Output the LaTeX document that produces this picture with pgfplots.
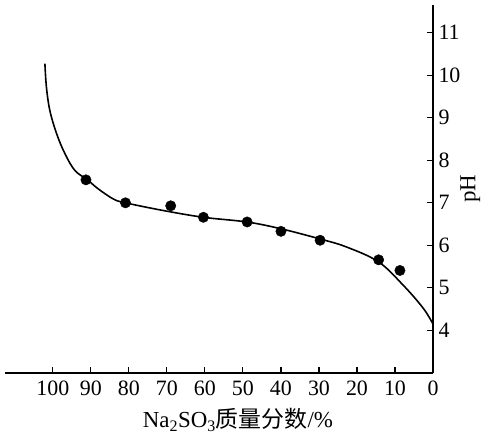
\documentclass[border=0pt]{standalone}
\usepackage{fontspec}
\setmainfont{Liberation Serif}
\newfontfamily\cjk{Noto Sans CJK SC}
\usepackage{pgfplots}
\pgfplotsset{compat=1.18}
\begin{document}
\begin{tikzpicture}
  \useasboundingbox (0,0) rectangle (500bp,436bp);
  \begin{axis}[
      at={(5bp,63bp)}, anchor=south west,
      scale only axis,
      width=428bp, height=368bp,
      x dir=reverse,
      xmin=0, xmax=112.6,
      ymin=3, ymax=11.65,
      axis x line=bottom, axis y line=right,
      axis line style={-, line width=1.3pt},
      tick align=inside,
      major tick length=6bp,
      tick style={line width=1.1pt, black},
      xtick={0,10,...,100},
      ytick={4,5,...,11},
      /pgf/number format/assume math mode=true,
      ticklabel style={font=\fontsize{22}{26}\selectfont},
      xticklabel style={yshift=-4bp},
      yticklabel style={xshift=2bp},
      label style={font=\fontsize{23}{27}\selectfont},
      xlabel={Na\textsubscript{2}SO\textsubscript{3}{\cjk 质量分数}/\%},
      ylabel={pH},
      xlabel style={xshift=19bp, yshift=-6bp},
      ylabel style={yshift=7bp},
      clip=false
    ]
    % fitted curve
    \addplot[black, line width=1.6pt, smooth, tension=0.6] coordinates {
      (102.1, 10.27) (101.7, 9.72) (100.8, 9.17) (99.0, 8.62) (96.8, 8.15)
      (94.2, 7.76) (90.9, 7.54) (88.1, 7.33) (84.1, 7.09) (80.9, 7.00)
      (71.0, 6.82) (60.4, 6.66) (49.0, 6.55) (40.0, 6.39) (29.7, 6.15)
      (22.7, 5.96) (14.3, 5.61) (7.8, 5.06) (2.55, 4.52) (0, 4.15)
    };
    % measured points
    \addplot[only marks, mark=*, mark size=5.2bp, black] coordinates {
      (91.3, 7.54) (80.9, 7.00) (69.0, 6.93) (60.4, 6.66) (48.9, 6.55)
      (40.0, 6.33) (29.7, 6.12) (14.3, 5.66) (8.7, 5.41)
    };
  \end{axis}
\end{tikzpicture}
\end{document}
